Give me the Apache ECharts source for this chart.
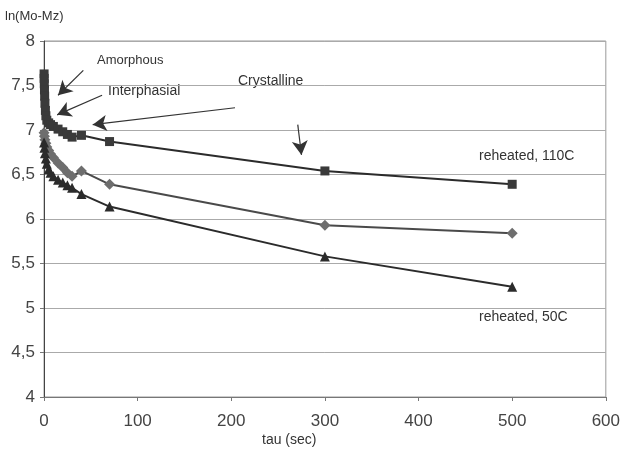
<!DOCTYPE html>
<html><head><meta charset="utf-8">
<script src="https://cdn.jsdelivr.net/npm/echarts@6/dist/echarts.min.js"></script>
<style>html,body{margin:0;padding:0;background:#fff}#c{width:623px;height:450px}</style>
</head><body><div id="c"></div>
<script>
// Square series (reheated, 110C)
const tauSq = [0.1,0.2,0.3,0.5,0.7,1,1.5,2,3,5,7,10,15,20,25,30,40,70,300,500];
const valSq = [7.63,7.58,7.52,7.45,7.38,7.3,7.22,7.16,7.11,7.08,7.06,7.04,7.01,6.98,6.95,6.92,6.94,6.87,6.54,6.39];
// Diamond series
const tauDi = [0.1,0.5,1,2,3,5,7,10,15,20,25,30,40,70,300,500];
const valDi = [6.97,6.93,6.89,6.85,6.81,6.77,6.73,6.69,6.63,6.58,6.52,6.48,6.54,6.39,5.93,5.84];
// Triangle series (reheated, 50C)
const tauTr = [0.1,0.5,1,2,3,5,7,10,15,20,25,30,40,70,300,500];
const valTr = [6.86,6.8,6.74,6.68,6.62,6.56,6.52,6.48,6.44,6.41,6.38,6.35,6.28,6.14,5.58,5.24];
const xTicks = [0,100,200,300,400,500,600];
const yTicks = [4,4.5,5,5.5,6,6.5,7,7.5,8];
// annotation arrows [fromTau, fromVal, toTau, toVal]
const arrows = [[42,7.67,15,7.39],[62,7.39,14,7.17],[204,7.25,52,7.06],[271,7.06,275,6.72]];

const z = (a,b)=>a.map((t,i)=>[t,b[i]]);
const chart = echarts.init(document.getElementById('c'));
const lineCol = '#2b2b2b';
chart.setOption({
  animation:false,
  grid:{left:44,right:16,top:41,bottom:53,show:true,borderColor:'#999',borderWidth:1},
  xAxis:{type:'value',min:0,max:600,interval:100,
    axisLine:{lineStyle:{color:'#777'}},axisTick:{show:true,length:4,lineStyle:{color:'#777'}},
    splitLine:{show:false},
    axisLabel:{color:'#444',fontSize:17,fontFamily:'Liberation Sans',margin:16}},
  yAxis:{type:'value',min:4,max:8,interval:0.5,
    axisLine:{show:true,lineStyle:{color:'#444'}},axisTick:{show:true,length:4,lineStyle:{color:'#777'}},
    splitLine:{lineStyle:{color:'#aaa'}},
    axisLabel:{color:'#444',fontSize:17,fontFamily:'Liberation Sans',margin:9,
      formatter:v=>String(v).replace('.',',')}},
  series:[
    {type:'line',data:z(tauSq,valSq),symbol:'rect',symbolSize:9,
      lineStyle:{color:lineCol,width:2},itemStyle:{color:'#3a3a3a'},
      markLine:{silent:true,symbol:['none','arrow'],symbolSize:[12,14],
        lineStyle:{color:'#333',width:1.2,type:'solid'},label:{show:false},
        data:arrows.map(a=>[{coord:[a[0],a[1]]},{coord:[a[2],a[3]]}])}},
    {type:'line',data:z(tauDi,valDi),symbol:'diamond',symbolSize:11,
      lineStyle:{color:'#4a4a4a',width:2},itemStyle:{color:'#6e6e6e'}},
    {type:'line',data:z(tauTr,valTr),symbol:'triangle',symbolSize:10,
      lineStyle:{color:lineCol,width:2},itemStyle:{color:'#2b2b2b'}}
  ],
  graphic:[
    {type:'text',left:5,top:10,style:{text:'ln(Mo-Mz)',fontSize:13,fill:'#333',fontFamily:'Liberation Sans'}},
    {type:'text',left:97,top:54,style:{text:'Amorphous',fontSize:13,fill:'#333',fontFamily:'Liberation Sans'}},
    {type:'text',left:108,top:84,style:{text:'Interphasial',fontSize:14,fill:'#333',fontFamily:'Liberation Sans'}},
    {type:'text',left:238,top:74,style:{text:'Crystalline',fontSize:14,fill:'#333',fontFamily:'Liberation Sans'}},
    {type:'text',left:479,top:149,style:{text:'reheated, 110C',fontSize:14,fill:'#333',fontFamily:'Liberation Sans'}},
    {type:'text',left:479,top:310,style:{text:'reheated, 50C',fontSize:14,fill:'#333',fontFamily:'Liberation Sans'}},
    {type:'text',left:262,top:433,style:{text:'tau (sec)',fontSize:14,fill:'#333',fontFamily:'Liberation Sans'}}
  ]
});
</script></body></html>
